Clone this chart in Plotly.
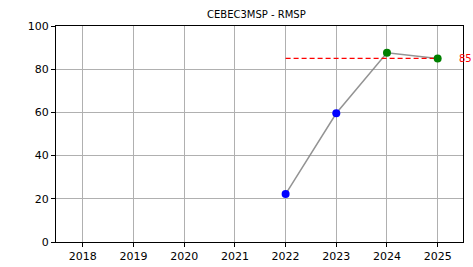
import plotly.graph_objects as go

years = [2022, 2023, 2024, 2025]
values = [22.2, 59.6, 87.6, 85.0]
colors = ["blue", "blue", "green", "green"]
target = 85
target_years = [2022, 2025]
title = "CEBEC3MSP - RMSP"
xticks = [2018, 2019, 2020, 2021, 2022, 2023, 2024, 2025]
yticks = [0, 20, 40, 60, 80, 100]

fig = go.Figure()
fig.add_trace(go.Scatter(x=years, y=values, mode="lines",
                         line=dict(color="rgba(128,128,128,0.85)", width=1.5),
                         showlegend=False, hoverinfo="skip"))
fig.add_trace(go.Scatter(x=target_years, y=[target, target], mode="lines",
                         line=dict(color="#ff0000", width=1.3, dash="5px,3px"),
                         showlegend=False))
fig.add_trace(go.Scatter(x=years, y=values, mode="markers",
                         marker=dict(color=colors, size=8),
                         showlegend=False))
fig.add_annotation(x=1, xref="paper", xanchor="left", xshift=-5, y=target, yref="y",
                   text=str(target), showarrow=False, borderpad=0,
                   font=dict(color="#ff0000", size=10, family="DejaVu Sans"))

fig.update_layout(
    width=473, height=267,
    margin=dict(l=56, r=10, t=26, b=25, autoexpand=False),
    paper_bgcolor="white", plot_bgcolor="white",
    title=dict(text=title, x=0.542, xanchor="center", y=1 - 14 / 267, yanchor="middle",
               font=dict(size=10, family="DejaVu Sans", color="black")),
    font=dict(family="DejaVu Sans", size=11, color="black"),
)
fig.update_xaxes(range=[2017.47, 2025.5], tickvals=xticks, ticktext=[str(t) for t in xticks],
                 showgrid=True, gridcolor="#b0b0b0", gridwidth=1, automargin=False,
                 showline=True, linecolor="black", linewidth=1, mirror=True,
                 ticks="outside", ticklen=4, tickcolor="black", zeroline=False)
fig.update_yaxes(range=[0, 100], tickvals=yticks, automargin=False,
                 showgrid=True, gridcolor="#b0b0b0", gridwidth=1,
                 showline=True, linecolor="black", linewidth=1, mirror=True,
                 ticks="outside", ticklen=4, tickcolor="black", zeroline=False)

fig.write_html("out.html", config={"displayModeBar": False},
               post_script="document.body.style.margin='0';document.body.style.overflow='hidden';")
